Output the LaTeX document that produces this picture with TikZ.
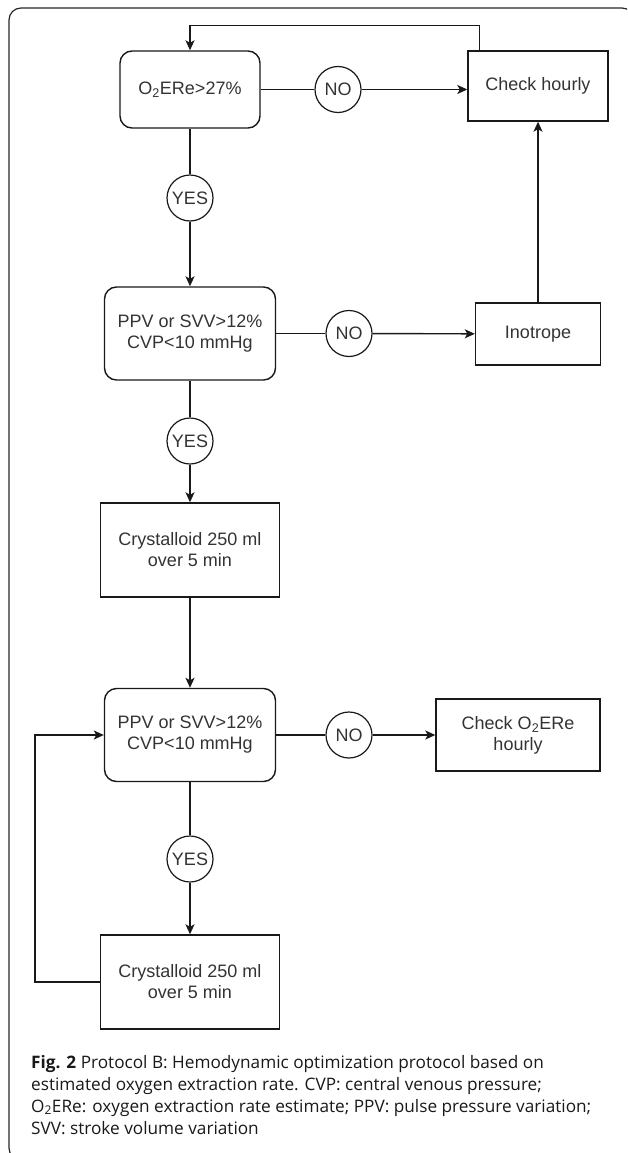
\documentclass[tikz,border=0pt]{standalone}
\usepackage{fontspec}
\setmainfont{Liberation Sans}
\newfontfamily\capfont{Open Sans}
\usetikzlibrary{arrows.meta}
\begin{document}
\begin{tikzpicture}[x=1pt,y=-1pt,
  every node/.style={font=\fontsize{18}{21}\selectfont, text=black!80, inner sep=0pt, align=center},
  line/.style={line width=1.4pt, draw=black!90},
  arr/.style={line, -{Stealth[length=10pt,width=9pt,inset=2.5pt]}},
  decbox/.style={draw=black!90, line width=1.4pt, rounded corners=12pt, rectangle},
  actbox/.style={draw=black!90, line width=1.4pt, rectangle},
  label/.style={draw=black!90, line width=1.2pt, circle, minimum size=46pt, fill=white},
  captext/.style={font=\capfont\fontsize{17.2}{22}\selectfont, text=black!90, anchor=base west, align=left}
  ]
\useasboundingbox (0,0) rectangle (627,1153);
\begin{scope}
  \clip (0,0) rectangle (627,1153);
  \draw[line width=1.2pt, draw=black!85, rounded corners=12pt] (9,8) rectangle (634,1160);
\end{scope}

% nodes
\node[decbox, minimum width=140pt, minimum height=77pt] (n1) at (190,89.5) {O\textsubscript{2}ERe>27\%};
\node[label] (no1) at (338,89.5) {NO};
\node[actbox, minimum width=140pt, minimum height=70pt] (check) at (538,86) {Check hourly};
\node[label] (yes1) at (190,198) {YES};
\node[decbox, minimum width=171pt, minimum height=93pt] (ppv1) at (190,333.5) {PPV or SVV>12\%\\CVP<10 mmHg};
\node[label] (no2) at (349,333.5) {NO};
\node[actbox, minimum width=125pt, minimum height=62pt] (ino) at (538,334) {Inotrope};
\node[label] (yes2) at (190,441) {YES};
\node[actbox, minimum width=179pt, minimum height=94pt] (cry1) at (190,550) {Crystalloid 250 ml\\over 5 min};
\node[decbox, minimum width=171pt, minimum height=93pt] (ppv2) at (190,735) {PPV or SVV>12\%\\CVP<10 mmHg};
\node[label] (no3) at (349,735) {NO};
\node[actbox, minimum width=164pt, minimum height=72pt] (cko) at (518,735) {Check O\textsubscript{2}ERe\\hourly};
\node[label] (yes3) at (190,859) {YES};
\node[actbox, minimum width=179pt, minimum height=94pt] (cry2) at (190,982) {Crystalloid 250 ml\\over 5 min};

% connectors
\draw[line] (n1) -- (no1);
\draw[arr] (no1) -- (no1 -| check.west);
\draw[arr] ([xshift=12pt]check.north west) -- ++(0,-25) -| (n1.north);
\draw[line] (n1) -- (yes1);
\draw[arr] (yes1) -- (ppv1);
\draw[line] (ppv1) -- (no2);
\draw[arr] (no2) -- (ino);
\draw[arr] (ino) -- (check);
\draw[line] (ppv1) -- (yes2);
\draw[arr] (yes2) -- (cry1);
\draw[arr] (cry1) -- (ppv2);
\draw[line] (ppv2) -- (no3);
\draw[arr] (no3) -- (cko);
\draw[line] (ppv2) -- (yes3);
\draw[arr] (yes3) -- (cry2);
\draw[arr] (cry2.west) -- ++(-65,0) |- (ppv2.west);

% caption
\node[captext] (cap1) at (31,1068) {\textbf{Fig. 2} Protocol B: Hemodynamic optimization protocol based on};
\node[captext] (cap2) at (31,1090) {estimated oxygen extraction rate. CVP: central venous pressure;};
\node[captext] (cap3) at (31,1112) {O\textsubscript{2}ERe: oxygen extraction rate estimate; PPV: pulse pressure variation;};
\node[captext] (cap4) at (31,1134) {SVV: stroke volume variation};
\end{tikzpicture}
\end{document}
